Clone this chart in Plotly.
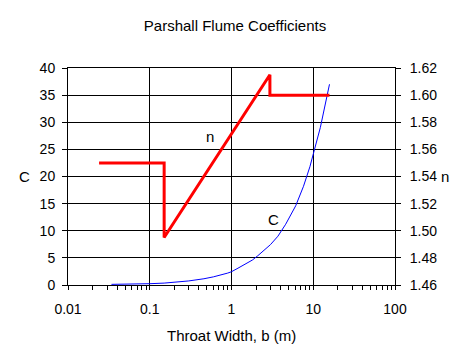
import plotly.graph_objects as go

# Throat width b (m) and coefficient C
c_width = [0.034, 0.05, 0.076, 0.1, 0.15, 0.23, 0.3, 0.46, 0.6, 0.9, 1.0, 1.2, 1.5, 1.8,
           2.1, 2.4, 3.0, 3.7, 4.6, 6.1, 7.6, 9.1, 12.2, 15.8]
c_values = [0.12, 0.14, 0.18, 0.24, 0.35, 0.55, 0.75, 1.15, 1.5, 2.2, 2.45, 3.1, 3.9, 4.6,
            5.4, 6.2, 7.45, 9.0, 11.2, 14.6, 18.2, 21.8, 29.0, 37.0]

# Exponent n
n_width = [0.024, 0.15, 0.15, 2.95, 2.95, 15.8]
n_values = [1.55, 1.55, 1.495, 1.615, 1.60, 1.60]

FONT = "Liberation Sans, Arial, sans-serif"

# page body has an 8px margin: figure is placed at (8, 8)
W, H = 463, 355
L, T, R, B = 60, 60, 76, 78
PW = W - L - R
PH = H - T - B

fig = go.Figure()
fig.add_trace(go.Scatter(x=c_width, y=c_values, mode="lines",
                         line=dict(color="#0000ff", width=1), yaxis="y", showlegend=False))
fig.add_trace(go.Scatter(x=n_width, y=n_values, mode="lines",
                         line=dict(color="#ff0000", width=3), yaxis="y2", showlegend=False))

fig.update_layout(
    width=W, height=H,
    margin=dict(l=L, r=R, t=T, b=B, pad=0),
    paper_bgcolor="white", plot_bgcolor="white",
    font=dict(family=FONT, size=14, color="black"),
    showlegend=False,
    title=dict(text="Parshall Flume Coefficients", x=(235 - 8) / W, xanchor="center",
               y=1 - 18 / H, yanchor="middle", font=dict(size=15, color="black")),
    xaxis=dict(type="log", range=[-2, 2], dtick=1,
               showgrid=True, gridcolor="black", gridwidth=1,
               showline=True, linecolor="black", linewidth=1, mirror=True,
               ticks="outside", ticklen=4, tickcolor="black", ticklabelstandoff=7,
               minor=dict(dtick="D1", ticks="outside", ticklen=4, tickcolor="black", showgrid=False),
               zeroline=False, tickfont=dict(size=14)),
    yaxis=dict(range=[0, 40], dtick=5, showgrid=True, gridcolor="black", gridwidth=1,
               showline=True, linecolor="black", linewidth=1,
               ticks="outside", ticklen=5, tickcolor="black", zeroline=False,
               ticklabelstandoff=4, tickfont=dict(size=14)),
    yaxis2=dict(range=[1.46, 1.62], dtick=0.02, tickformat=".2f", overlaying="y", side="right",
                showgrid=False, showline=True, linecolor="black", linewidth=1,
                ticks="outside", ticklen=5, tickcolor="black", zeroline=False,
                ticklabelstandoff=6, tickfont=dict(size=14)),
    annotations=[
        dict(text="Throat Width, b (m)", xref="paper", yref="paper", x=(232 - 68) / PW,
             y=-50 / PH, xanchor="center", yanchor="middle", showarrow=False, font=dict(size=15)),
        dict(text="C", xref="paper", yref="paper", x=-(68 - 24) / PW, y=(285 - 176) / PH,
             xanchor="center", yanchor="middle", showarrow=False, font=dict(size=15)),
        dict(text="n", xref="paper", yref="paper", x=(445 - 68) / PW, y=(285 - 176) / PH,
             xanchor="center", yanchor="middle", showarrow=False, font=dict(size=15)),
        dict(text="n", xref="paper", yref="paper", x=(210 - 68) / PW, y=(285 - 136) / PH,
             xanchor="center", yanchor="middle", showarrow=False, font=dict(size=15)),
        dict(text="C", xref="paper", yref="paper", x=(273 - 68) / PW, y=(285 - 219) / PH,
             xanchor="center", yanchor="middle", showarrow=False, font=dict(size=15)),
    ],
)

fig.write_html("out.html")
